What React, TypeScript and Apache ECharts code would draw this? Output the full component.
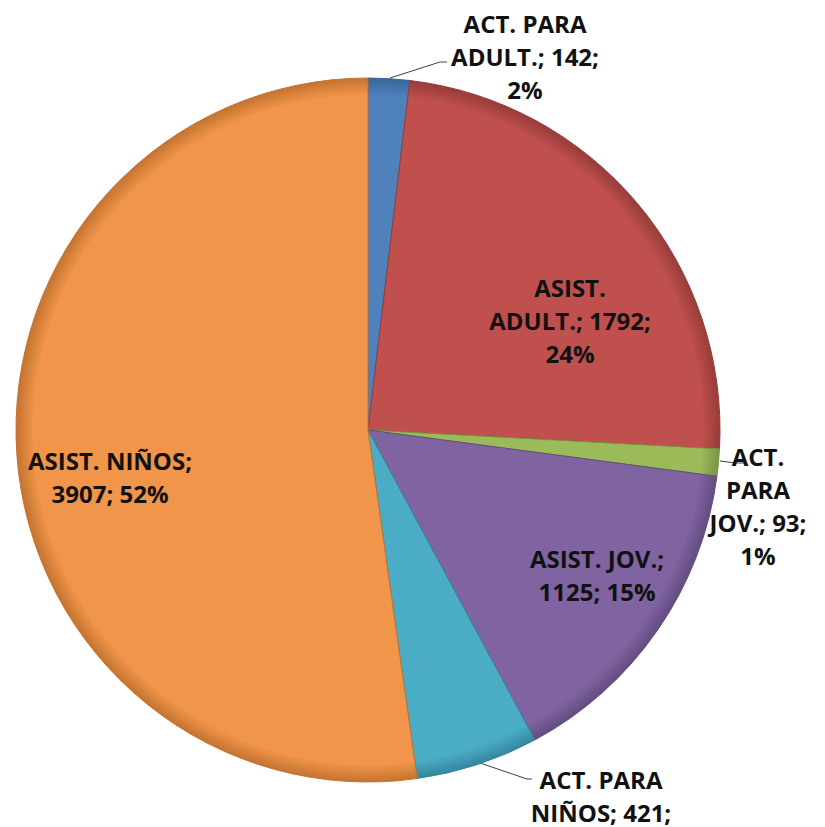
import React, { useEffect, useRef } from "react";
import * as echarts from "echarts";

const categories = ["ACT. PARA ADULT.", "ASIST. ADULT.", "ACT. PARA JOV.", "ASIST. JOV.", "ACT. PARA NIÑOS", "ASIST. NIÑOS"];
const values = [142, 1792, 93, 1125, 421, 3907];
const colors = ["#4F81BD", "#C0504D", "#9BBB59", "#8064A2", "#4BACC6", "#F0954A"];
const edgeColors = ["#3A6598", "#973C3A", "#799442", "#634C80", "#33879D", "#C4732F"];
// words per label line
const lineSplits = [[2, 2, 1], [1, 2, 1], [1, 1, 2, 1], [2, 2], [2, 2, 1], [2, 2]];
const smallSlices = [0, 2, 4];

const CX = 368, CY = 430, R = 352;

const labelPos: Record<number, { x: number; y: number; line?: number[][] }> = {
  0: { x: 525, y: 56, line: [[390, 78], [440, 62], [447, 62]] },
  1: { x: 570, y: 320 },
  2: { x: 758, y: 506, line: [[720, 461], [736, 463], [744, 463]] },
  3: { x: 597, y: 575 },
  4: { x: 601, y: 812, line: [[480, 763], [527, 779], [532, 779]] },
  5: { x: 110, y: 477 },
};

export default function App() {
  const ref = useRef<HTMLDivElement>(null);
  useEffect(() => {
    if (!ref.current) return;
    const chart = echarts.init(ref.current, undefined, { renderer: "svg" });
    const data = categories.map((name, i) => ({
      name,
      value: values[i],
      itemStyle: {
        color: {
          type: "radial",
          x: CX,
          y: CY,
          r: R,
          global: true,
          colorStops: [
            { offset: 0, color: colors[i] },
            { offset: 0.95, color: colors[i] },
            { offset: 1, color: edgeColors[i] },
          ],
        },
        borderColor: edgeColors[i],
        borderWidth: 1,
      },
      labelLine: { show: smallSlices.includes(i) },
    }));
    chart.setOption({
      animation: false,
      series: [
        {
          type: "pie",
          center: [CX, CY],
          radius: R,
          startAngle: 90,
          clockwise: true,
          percentPrecision: 0,
          avoidLabelOverlap: false,
          data,
          label: {
            show: true,
            position: "outside",
            fontFamily: "Open Sans",
            fontWeight: "bold",
            fontSize: 24,
            lineHeight: 33,
            color: "#111",
            align: "center",
            formatter: (p: any) => {
              const i = p.dataIndex;
              const tokens = categories[i].split(" ");
              tokens[tokens.length - 1] += ";";
              tokens.push(values[i] + ";");
              tokens.push(p.percent + "%");
              const lines: string[] = [];
              let k = 0;
              for (const n of lineSplits[i]) {
                lines.push(tokens.slice(k, k + n).join(" "));
                k += n;
              }
              return lines.join("\n");
            },
          },
          labelLine: {
            show: true,
            lineStyle: { color: "#404040", width: 1 },
          },
          labelLayout: (params: any) => {
            const pos = labelPos[params.dataIndex];
            const out: any = { x: pos.x, y: pos.y, align: "center", verticalAlign: "middle" };
            if (pos.line) out.labelLinePoints = pos.line;
            return out;
          },
        },
      ],
    });
    return () => chart.dispose();
  }, []);
  return <div ref={ref} style={{ position: "absolute", left: 0, top: 0, width: 825, height: 827 }} />;
}
